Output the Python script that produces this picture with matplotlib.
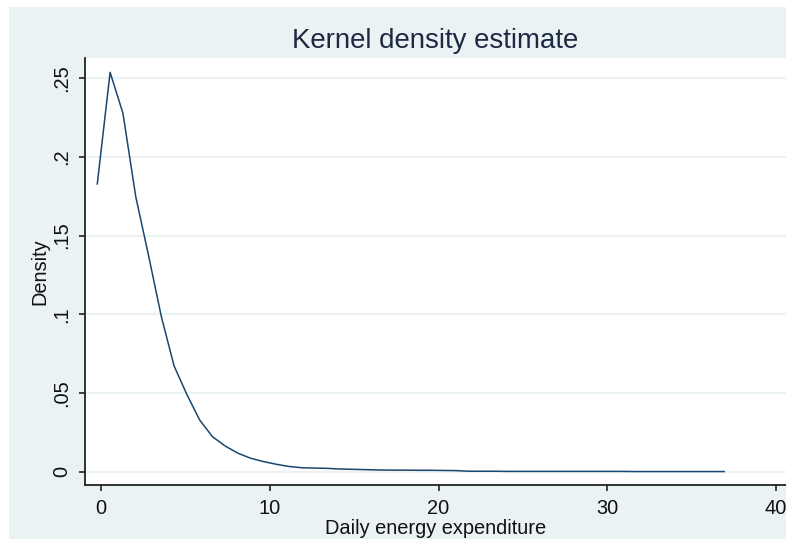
import matplotlib
matplotlib.use('Agg')
import matplotlib.pyplot as plt
from matplotlib.patches import Rectangle

plt.rcParams['font.family'] = ['Liberation Sans', 'DejaVu Sans']

# kernel density evaluated at 50 points
energy = [-0.22, 0.54, 1.30, 2.06, 2.82, 3.58, 4.33, 5.09, 5.85, 6.61,
          7.36, 8.12, 8.88, 9.64, 10.40, 11.15, 11.91, 12.67, 13.43, 14.19,
          14.95, 15.70, 16.46, 17.22, 17.98, 18.74, 19.50, 20.25, 21.01, 21.77,
          22.53, 23.29, 24.04, 24.80, 25.56, 26.32, 27.08, 27.84, 28.59, 29.35,
          30.11, 30.87, 31.63, 32.38, 33.14, 33.90, 34.66, 35.42, 36.17, 36.93]
density = [0.1828, 0.2537, 0.2277, 0.1747, 0.1372, 0.0983, 0.0672, 0.0490, 0.0328, 0.0222,
           0.0163, 0.0117, 0.0085, 0.0064, 0.0047, 0.0033, 0.0025, 0.0023, 0.0021, 0.0017,
           0.0015, 0.0013, 0.0011, 0.0010, 0.0010, 0.0009, 0.0009, 0.0008, 0.0007, 0.0003,
           0.0003, 0.0003, 0.0002, 0.0002, 0.0002, 0.0002, 0.0002, 0.0002, 0.0002, 0.0002,
           0.0002, 0.0002, 0.0001, 0.0001, 0.0001, 0.0001, 0.0001, 0.0001, 0.0001, 0.0001]

xticks = [0, 10, 20, 30, 40]
yticks = [0, 0.05, 0.1, 0.15, 0.2, 0.25]
ytick_labels = ['0', '.05', '.1', '.15', '.2', '.25']

W, H = 786, 539
fig = plt.figure(figsize=(W / 100, H / 100), dpi=100, facecolor='white')
# stata-like light outer region (white margin only at top and left)
fig.patches.append(Rectangle((9 / W, -0.02), 1.05, 1.02 - 7 / H, transform=fig.transFigure,
                             facecolor='#eaf2f3', edgecolor='none', zorder=-1))

ax = fig.add_axes([85 / W, 1 - 485 / H, 1 - 85 / W, (485 - 58) / H])
ax.set_zorder(1)
ax.set_facecolor('white')
ax.plot(energy, density, color='#1a476f', lw=1.1, zorder=3)

ax.set_xlim(-0.948, 40.59)
ax.set_ylim(-0.00845, 0.2628)
ax.set_xticks(xticks)
ax.set_yticks(yticks)
ax.set_yticklabels(ytick_labels, rotation=90, va='center')
ax.tick_params(axis='both', direction='out', length=4, width=1.2, color='#222222',
               labelsize=14.4, labelcolor='#111111')
ax.tick_params(axis='x', pad=6)
ax.tick_params(axis='y', pad=6)
ax.grid(axis='y', color='#eaf2f3', lw=1.5, zorder=1)
ax.set_axisbelow(True)

for s in ['top', 'right']:
    ax.spines[s].set_visible(False)
for s in ['left', 'bottom']:
    ax.spines[s].set_color('#222222')
    ax.spines[s].set_linewidth(1.3)

ax.set_xlabel('Daily energy expenditure', fontsize=14.4, color='#111111', labelpad=1)
ax.set_ylabel('Density', fontsize=14.4, color='#111111', labelpad=2)

fig.text(435.5 / W, 1 - 48 / H, 'Kernel density estimate', ha='center', va='baseline',
         fontsize=19.9, color='#1e2a44')

fig.savefig('out.png', dpi=100, facecolor='white')
